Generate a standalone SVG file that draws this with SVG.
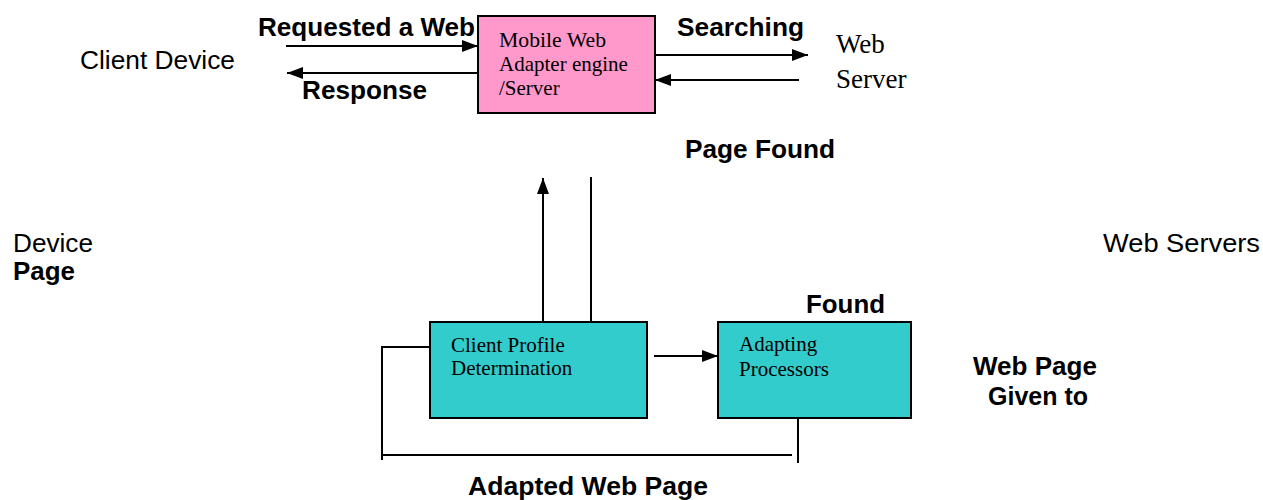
<svg xmlns="http://www.w3.org/2000/svg" width="1263" height="500" viewBox="0 0 1263 500">
<style>
.lbl{font-family:"Liberation Sans",Arial,sans-serif;font-size:25px;fill:#000}
.b{font-weight:bold}
.ser{font-family:"Liberation Serif","Times New Roman",serif;font-size:21px;fill:#000}
.box{stroke:#000;stroke-width:2}
.ln{stroke:#000;stroke-width:2;fill:none}
</style>
<defs>
<marker id="ah" viewBox="0 0 16 12" refX="16" refY="6" markerWidth="16" markerHeight="12" markerUnits="userSpaceOnUse" orient="auto">
<path d="M0,0 L16,6 L0,12 Z" fill="#000"/>
</marker>
</defs>
<rect width="1263" height="500" fill="#fff"/>
<g id="connectors">
<line class="ln" x1="286" y1="46" x2="478" y2="46" marker-end="url(#ah)"/>
<line class="ln" x1="478" y1="73" x2="287" y2="73" marker-end="url(#ah)"/>
<line class="ln" x1="655" y1="55" x2="808" y2="55" marker-end="url(#ah)"/>
<line class="ln" x1="799" y1="80" x2="655" y2="80" marker-end="url(#ah)"/>
<line class="ln" x1="543" y1="338" x2="543" y2="178" marker-end="url(#ah)"/>
<line class="ln" x1="591" y1="177" x2="591" y2="322"/>
<line class="ln" x1="654" y1="356" x2="718" y2="356" marker-end="url(#ah)"/>
<polyline class="ln" points="430,347 382,347 382,460"/>
<line class="ln" x1="382" y1="455" x2="792" y2="455"/>
<line class="ln" x1="798" y1="413" x2="798" y2="463"/>
</g>
<g id="mobile-web-adapter">
<rect class="box" x="478" y="16" width="177" height="97" fill="#FF99CC"/>
<text class="ser" x="499" y="47" textLength="107" lengthAdjust="spacingAndGlyphs">Mobile Web</text>
<text class="ser" x="499" y="71">Adapter engine</text>
<text class="ser" x="499" y="95">/Server</text>
</g>
<g id="client-profile">
<rect class="box" x="430" y="322" width="217" height="96" fill="#33CCCC"/>
<text class="ser" x="451" y="352">Client Profile</text>
<text class="ser" x="451" y="375">Determination</text>
</g>
<g id="adapting-processors">
<rect class="box" x="718" y="322" width="193" height="96" fill="#33CCCC"/>
<text class="ser" x="739" y="351">Adapting</text>
<text class="ser" x="739" y="376">Processors</text>
</g>
<g id="web-server">
<text class="ser" x="836" y="53" style="font-size:27px">Web</text>
<text class="ser" x="836" y="88" style="font-size:27px">Server</text>
</g>
<g id="labels">
<text class="lbl" x="80" y="69" textLength="155" lengthAdjust="spacingAndGlyphs">Client Device</text>
<text class="lbl b" x="258" y="36" textLength="217" lengthAdjust="spacingAndGlyphs">Requested a Web</text>
<text class="lbl b" x="302" y="99" textLength="125" lengthAdjust="spacingAndGlyphs">Response</text>
<text class="lbl b" x="677" y="36" textLength="127" lengthAdjust="spacingAndGlyphs">Searching</text>
<text class="lbl b" x="685" y="158" textLength="150" lengthAdjust="spacingAndGlyphs">Page Found</text>
<text class="lbl" x="13" y="252" textLength="80" lengthAdjust="spacingAndGlyphs">Device</text>
<text class="lbl b" x="13" y="280" textLength="62" lengthAdjust="spacingAndGlyphs">Page</text>
<text class="lbl" x="1103" y="252" textLength="157" lengthAdjust="spacingAndGlyphs">Web Servers</text>
<text class="lbl b" x="806" y="313" textLength="79" lengthAdjust="spacingAndGlyphs">Found</text>
<text class="lbl b" x="973" y="375" textLength="124" lengthAdjust="spacingAndGlyphs">Web Page</text>
<text class="lbl b" x="988" y="405" textLength="100" lengthAdjust="spacingAndGlyphs">Given to</text>
<text class="lbl b" x="468" y="495" textLength="240" lengthAdjust="spacingAndGlyphs">Adapted Web Page</text>
</g>
</svg>
